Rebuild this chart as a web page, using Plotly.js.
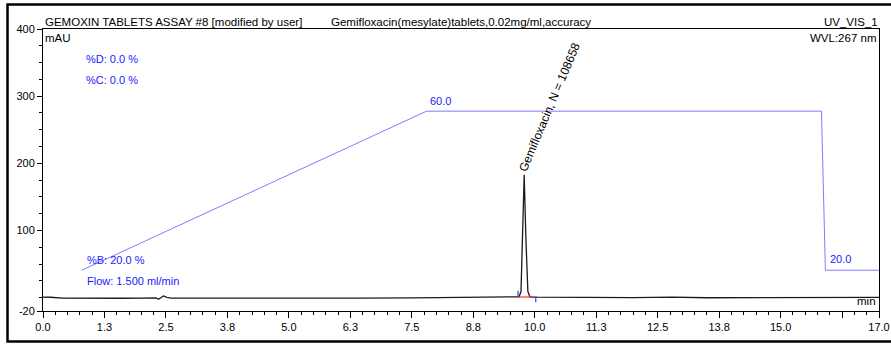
<!DOCTYPE html>
<html>
<head>
<meta charset="utf-8">
<script src="https://cdn.plot.ly/plotly-3.0.1.min.js"></script>
<style>
html,body{margin:0;padding:0;background:#fff;}
#chart{width:891px;height:346px;}
</style>
</head>
<body>
<div id="chart"></div>
<script>
// Chromatogram (UV_VIS_1, 267 nm)
const rtMin = [0.00,0.15,0.40,0.80,1.20,1.60,2.00,2.20,2.30,2.35,2.40,2.45,2.52,2.60,3.00,3.50,4.50,5.50,6.50,7.50,8.50,9.20,9.55,9.68,9.72,9.75,9.785,9.82,9.86,9.90,9.95,10.05,10.30,11.00,12.00,12.80,13.50,14.50,15.50,16.50,17.00];
const absMau = [0.6,0.5,-0.8,-1.2,-1.0,-1.0,-0.8,-0.5,-0.6,-2.5,0.5,2.4,0.3,-0.8,-0.8,-0.9,-1.0,-1.0,-0.7,-0.4,0.0,0.5,0.8,1.2,9,87,183,87,9,1.5,0.8,0.6,0.4,0.2,-0.2,0.6,-0.3,0.0,-0.3,0.5,0.3];

// Gradient program (%B)
const gradTime = [0.79, 7.80, 15.83, 15.91, 17.00];
const gradPctB = [20, 60, 60, 20, 20];

// Peak integration
const intBaseTime = [9.68, 9.95];
const intBaseMau = [0.8, 0.8];
const intStartTime = [9.66, 9.66];
const intStartMau = [1.5, 10];
const intEndTime = [10.02, 10.02];
const intEndMau = [1.0, -7];

// Peak label
const peakName = "Gemifloxacin, N = 108658";
const peakLabelPos = [10.30, 284];

// Axis ticks
const xTickVals = [0, 1.25, 2.5, 3.75, 5, 6.25, 7.5, 8.75, 10, 11.25, 12.5, 13.75, 15, 16.25, 17];
const xTickText = ["0.0","1.3","2.5","3.8","5.0","6.3","7.5","8.8","10.0","11.3","12.5","13.8","15.0","","17.0"];
const yTickVals = [-20, 100, 200, 300, 400];
const yTickText = ["-20","100","200","300","400"];

const FONT = "Liberation Sans, Arial, sans-serif";
const BLUE = "#2020ff";

const traces = [
  {x: gradTime, y: gradPctB, yaxis: "y2", mode: "lines", line: {color: "#7c7cff", width: 1}, hoverinfo: "skip"},
  {x: rtMin, y: absMau, mode: "lines", line: {color: "#1a1a1a", width: 1.3}, hoverinfo: "skip"},
  {x: intBaseTime, y: intBaseMau, mode: "lines", line: {color: "#ff3030", width: 1.2}, hoverinfo: "skip"},
  {x: intStartTime, y: intStartMau, mode: "lines", line: {color: "#4040ff", width: 1.2}, hoverinfo: "skip"},
  {x: intEndTime, y: intEndMau, mode: "lines", line: {color: "#4040ff", width: 1.2}, hoverinfo: "skip"}
];

const ml = 43, mr = 12, mt = 29, mb = 35, W = 891, H = 346;
const pw = W - ml - mr, ph = H - mt - mb;
const px = v => (v - ml) / pw;
const py = v => (H - mb - v) / ph;

const ann = (text, x, y, xanchor, opts) => Object.assign({
  text: text, x: x, y: y, xref: "paper", yref: "paper", xanchor: xanchor, yanchor: "middle",
  showarrow: false, font: {family: FONT, size: 11.5, color: "#000"}
}, opts || {});

const layout = {
  width: W, height: H,
  margin: {l: ml, r: mr, t: mt, b: mb, pad: 0},
  paper_bgcolor: "#fff", plot_bgcolor: "#fff",
  showlegend: false,
  font: {family: FONT, size: 11, color: "#000"},
  xaxis: {
    range: [0, 17], showgrid: false, zeroline: false,
    showline: true, linecolor: "#000", linewidth: 1, mirror: true,
    ticks: "outside", ticklen: 6, tickcolor: "#000", tickwidth: 1,
    tickmode: "array", tickvals: xTickVals, ticktext: xTickText,
    tickfont: {family: FONT, size: 11, color: "#000"},
    minor: {tickmode: "linear", tick0: 0, dtick: 0.25, ticks: "outside", ticklen: 3, tickcolor: "#000", showgrid: false}
  },
  yaxis: {
    range: [-20, 400], showgrid: false, zeroline: false,
    showline: true, linecolor: "#000", linewidth: 1, mirror: true,
    ticks: "outside", ticklen: 5, tickcolor: "#000", tickwidth: 1,
    tickmode: "array", tickvals: yTickVals, ticktext: yTickText,
    tickfont: {family: FONT, size: 11, color: "#000"},
    minor: {tickmode: "linear", tick0: 0, dtick: 25, ticks: "outside", ticklen: 3, tickcolor: "#000", showgrid: false}
  },
  yaxis2: {range: [9.75, 80.66], overlaying: "y", visible: false, showgrid: false, zeroline: false},
  shapes: [
    {type: "rect", xref: "paper", yref: "paper", x0: px(7.5), x1: px(905), y0: py(341.5), y1: py(4.5),
     line: {color: "#000", width: 2.5}, fillcolor: "rgba(0,0,0,0)", layer: "below"}
  ],
  annotations: [
    ann("GEMOXIN TABLETS ASSAY #8 [modified by user]", px(43), py(22), "left"),
    ann("Gemifloxacin(mesylate)tablets,0.02mg/ml,accuracy", 0.5, py(22), "center"),
    ann("UV_VIS_1", px(880), py(22), "right"),
    ann("mAU", px(43), py(38), "left"),
    ann("WVL:267 nm", px(878), py(38), "right"),
    ann("min", px(878), py(301), "right"),
    ann("%D: 0.0 %", px(84), py(59), "left", {font: {family: FONT, size: 11, color: BLUE}}),
    ann("%C: 0.0 %", px(84), py(80), "left", {font: {family: FONT, size: 11, color: BLUE}}),
    ann("%B: 20.0 %", px(85), py(260), "left", {font: {family: FONT, size: 11, color: BLUE}}),
    ann("Flow: 1.500 ml/min", px(85), py(281), "left", {font: {family: FONT, size: 11, color: BLUE}}),
    {text: gradPctB[1].toFixed(1), x: gradTime[1], y: gradPctB[1], xref: "x", yref: "y2",
     xanchor: "left", yanchor: "bottom", yshift: 2, xshift: 1, showarrow: false,
     font: {family: FONT, size: 11, color: BLUE}},
    {text: gradPctB[4].toFixed(1), x: gradTime[3], y: gradPctB[4], xref: "x", yref: "y2",
     xanchor: "left", yanchor: "bottom", yshift: 3, xshift: 3, showarrow: false,
     font: {family: FONT, size: 11, color: BLUE}},
    {text: peakName, x: peakLabelPos[0], y: peakLabelPos[1], xref: "x", yref: "y",
     xanchor: "center", yanchor: "middle", textangle: -67, showarrow: false,
     font: {family: FONT, size: 12, color: "#000"}}
  ]
};

Plotly.newPlot("chart", traces, layout, {staticPlot: true, displayModeBar: false});
</script>
</body>
</html>
